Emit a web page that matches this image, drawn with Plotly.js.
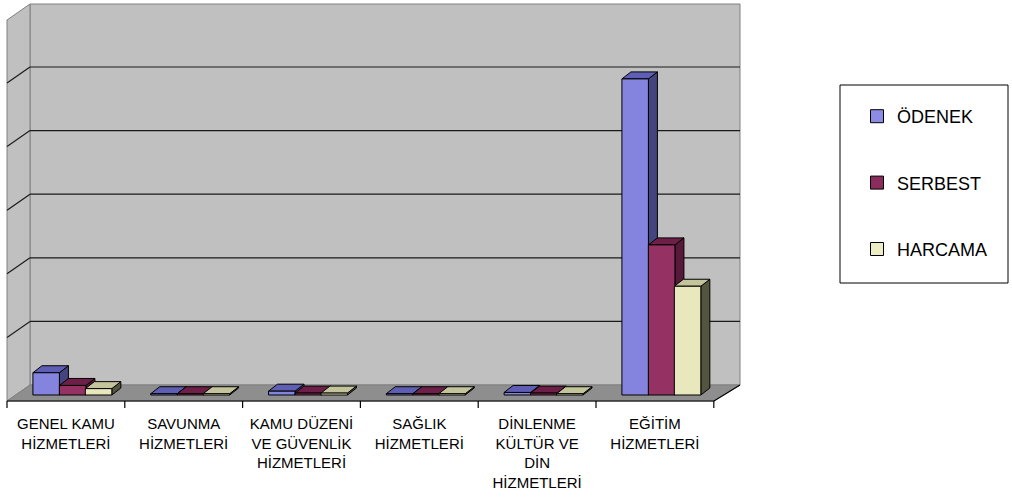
<!DOCTYPE html>
<html><head><meta charset="utf-8">
<script src="https://cdn.plot.ly/plotly-3.0.1.min.js"></script>
<style>html,body{margin:0;padding:0;background:#fff}</style>
</head><body><div id="chart" style="width:1012px;height:504px"></div>
<script>
// ---- data ----
const categories = ['GENEL KAMU HİZMETLERİ','SAVUNMA HİZMETLERİ','KAMU DÜZENİ VE GÜVENLİK HİZMETLERİ','SAĞLIK HİZMETLERİ','DİNLENME KÜLTÜR VE DİN HİZMETLERİ','EĞİTİM HİZMETLERİ'];
const tickLabels = ['GENEL KAMU<br>HİZMETLERİ','SAVUNMA<br>HİZMETLERİ','KAMU DÜZENİ<br>VE GÜVENLİK<br>HİZMETLERİ','SAĞLIK<br>HİZMETLERİ','DİNLENME<br>KÜLTÜR VE<br>DİN<br>HİZMETLERİ','EĞİTİM<br>HİZMETLERİ'];
const seriesNames = ['ÖDENEK','SERBEST','HARCAMA'];
const odenek  = [0.35, 0.02, 0.06, 0.02, 0.04, 4.97];
const serbest = [0.15, 0.02, 0.03, 0.02, 0.03, 2.36];
const harcama = [0.10, 0.02, 0.03, 0.02, 0.02, 1.71];
const seriesValues = [odenek, serbest, harcama];

// ---- style ----
const frontColors = ['#8484de','#953163','#e8e8bc'];
const topColors   = ['#5e5eb4','#6e1f48','#c4c49c'];
const sideColors  = ['#44447e','#561a38','#55553f'];
const legendColors = ['#8c8ce6','#8a2c5c','#eeeec4'];
const offsets = [-0.28, -0.055, 0.165];
const barW = 0.225;

// plot area geometry (px)
const L = 7, R = 741, T = 4, B = 401, W = R - L, H = B - T;
const catPx = 117.8;              // px per category
const unitPx = 63.6;              // px per y unit
const basePx = 395;               // pixel of y=0 (bar base)
const xmin = -0.5, xmax = -0.5 + W / catPx;
const ymin = (basePx - B) / unitPx, ymax = (basePx - T) / unitPx;
const dx = 9 / catPx, dy = 7 / unitPx;    // bar depth
const px = p => (p - L) / W;              // pixel x -> paper
const py = p => (B - p) / H;              // pixel y -> paper
const idx = categories.map((c, i) => i);

const shapes = [];
// back wall
shapes.push({type:'rect', xref:'paper', yref:'paper', x0:px(30), x1:px(740), y0:py(385), y1:py(4),
  fillcolor:'#c0c0c0', line:{color:'#808080', width:1}, layer:'below'});
// left wall
shapes.push({type:'path', xref:'paper', yref:'paper', layer:'below',
  path:`M ${px(7)},${py(401)} L ${px(7)},${py(20)} L ${px(30)},${py(4)} L ${px(30)},${py(385)} Z`,
  fillcolor:'#c0c0c0', line:{color:'#808080', width:1}});
// floor
shapes.push({type:'path', xref:'paper', yref:'paper', layer:'below',
  path:`M ${px(7)},${py(401)} L ${px(714)},${py(401)} L ${px(740)},${py(385)} L ${px(30)},${py(385)} Z`,
  fillcolor:'#8e8e8e', line:{color:'#808080', width:1}});
// gridlines on back and left walls
for (let k = 1; k <= 5; k++) {
  const yBack = py(385 - k * unitPx);
  const yFront = py(385 - k * unitPx + 16);
  shapes.push({type:'line', xref:'paper', yref:'paper', layer:'below', x0:px(30), x1:px(740), y0:yBack, y1:yBack, line:{color:'#1a1a1a', width:1.2}});
  shapes.push({type:'line', xref:'paper', yref:'paper', layer:'below', x0:px(7), x1:px(30), y0:yFront, y1:yBack, line:{color:'#1a1a1a', width:1.2}});
}
// front edge of floor + right slant
shapes.push({type:'path', xref:'paper', yref:'paper', layer:'above',
  path:`M ${px(7)},${py(401)} L ${px(714)},${py(401)} L ${px(740)},${py(385)}`,
  line:{color:'#000', width:1.2}});
// tick marks at category boundaries
for (let i = 0; i <= categories.length; i++) {
  const xp = ((i - 0.5) - xmin) / (xmax - xmin);
  shapes.push({type:'line', xref:'paper', yref:'paper', layer:'above', x0:xp, x1:xp, y0:py(401), y1:py(408), line:{color:'#000', width:1.2}});
}
// 3D faces of bars (top and side), through data coordinates
seriesValues.forEach((vals, s) => {
  vals.forEach((v, i) => {
    const x0 = i + offsets[s], x1 = x0 + barW;
    shapes.push({type:'path', xref:'x', yref:'y', layer:'below',
      path:`M ${x1},0 L ${x1+dx},${dy} L ${x1+dx},${v+dy} L ${x1},${v} Z`,
      fillcolor:sideColors[s], line:{color:'#000', width:1}});
    shapes.push({type:'path', xref:'x', yref:'y', layer:'below',
      path:`M ${x0},${v} L ${x1},${v} L ${x1+dx},${v+dy} L ${x0+dx},${v+dy} Z`,
      fillcolor:topColors[s], line:{color:'#000', width:1}});
  });
});
// legend box
shapes.push({type:'rect', xref:'paper', yref:'paper', x0:px(840), x1:px(1008), y0:py(283), y1:py(85),
  fillcolor:'rgba(0,0,0,0)', line:{color:'#000', width:1}});

const traces = seriesValues.map((vals, s) => ({
  type:'bar', name:seriesNames[s], x:idx, y:vals,
  width:barW, offset:offsets[s], showlegend:false,
  marker:{color:frontColors[s], line:{color:'#000', width:1}},
  hoverinfo:'x+y+name'
}));
// legend entries (square keys)
seriesNames.forEach((n, s) => traces.push({
  type:'scatter', mode:'markers', name:n, x:[null], y:[null], legendgroup:'g'+s,
  marker:{symbol:'square', size:13, color:legendColors[s], line:{color:'#000', width:1}},
  hoverinfo:'skip'
}));

const layout = {
  width:1012, height:504,
  margin:{l:L, r:1012-R, t:T, b:504-B},
  paper_bgcolor:'#fff', plot_bgcolor:'rgba(0,0,0,0)',
  font:{family:'"Liberation Sans", Arial, sans-serif', color:'#000'},
  barmode:'overlay',
  xaxis:{type:'linear', range:[xmin, xmax], tickvals:idx, ticktext:tickLabels,
    ticks:'', showgrid:false, zeroline:false, showline:false,
    tickfont:{size:15, color:'#000'}, ticklabelstandoff:12, fixedrange:true},
  yaxis:{range:[ymin, ymax], visible:false, showgrid:false, zeroline:false, fixedrange:true},
  showlegend:true,
  legend:{x:px(857), xanchor:'left', y:py(98), yanchor:'top', bgcolor:'rgba(0,0,0,0)',
    borderwidth:0, font:{size:18, color:'#000'}, tracegroupgap:40, traceorder:'grouped'},
  shapes:shapes
};
Plotly.newPlot('chart', traces, layout, {displayModeBar:false, staticPlot:true});
</script>
</body></html>
